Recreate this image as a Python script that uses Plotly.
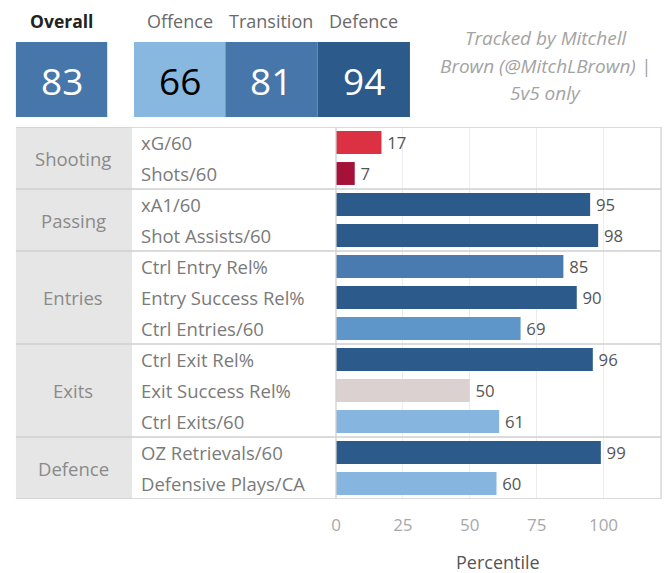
import plotly.graph_objects as go

W, H = 665, 573

# ---- data ----
groups = ["Shooting", "Passing", "Entries", "Exits", "Defence"]
group_sizes = [2, 2, 3, 3, 2]
metrics = ["xG/60", "Shots/60", "xA1/60", "Shot Assists/60", "Ctrl Entry Rel%",
           "Entry Success Rel%", "Ctrl Entries/60", "Ctrl Exit Rel%",
           "Exit Success Rel%", "Ctrl Exits/60", "OZ Retrievals/60",
           "Defensive Plays/CA"]
percentiles = [17, 7, 95, 98, 85, 90, 69, 96, 50, 61, 99, 60]
bar_colors = ["#dc3142", "#a6113a", "#2b5a8b", "#2b5a8b", "#4a7bb0", "#2b5a8b",
              "#5f96c9", "#2b5a8b", "#dcd1d1", "#86b6df", "#2b5a8b", "#86b6df"]
x_ticks = [0, 25, 50, 75, 100]

header_labels = ["Overall", "Offence", "Transition", "Defence"]
header_values = [83, 66, 81, 94]
header_colors = ["#4777aa", "#88b8df", "#4777aa", "#2c5a8a"]
header_text_colors = ["white", "black", "white", "white"]
note_lines = ["Tracked by Mitchell", "Brown (@MitchLBrown) |", "5v5 only"]

FONT = "Open Sans"

def px(x):
    return x / W

def py(y):
    return 1 - y / H

x0_plot, x1_plot = 333.5, 661
y0_plot, y1_plot = 127, 499

fig = go.Figure()
fig.add_trace(go.Bar(
    x=percentiles, y=metrics, orientation="h",
    marker=dict(color=bar_colors, line=dict(width=0)),
    width=0.74,
    text=["\u2009" + str(v) for v in percentiles], textposition="outside",
    textfont=dict(family=FONT, size=17.5, color="#555555"),
    cliponaxis=False, hoverinfo="skip",
))

shapes = []
# group column fill
shapes.append(dict(type="rect", xref="paper", yref="paper",
                   x0=px(11), x1=px(128), y0=py(y1_plot), y1=py(y0_plot),
                   fillcolor="#e6e6e6", line=dict(width=0), layer="below"))
# horizontal separators at group boundaries
bounds = [-0.5]
acc = -0.5
for s in group_sizes:
    acc += s
    bounds.append(acc)
for b in bounds:
    shapes.append(dict(type="line", xref="paper", yref="y",
                       x0=px(11), x1=px(x1_plot), y0=b, y1=b,
                       line=dict(color="#cfcfcf", width=1.3), layer="above"))
# vertical lines
for xv in [x0_plot, x1_plot]:
    shapes.append(dict(type="line", xref="paper", yref="paper",
                       x0=px(xv), x1=px(xv), y0=py(y1_plot), y1=py(y0_plot),
                       line=dict(color="#d0d0d0", width=1.3), layer="above"))

annotations = []
# group labels
start = 0
for g, s in zip(groups, group_sizes):
    mid = start + (s - 1) / 2
    annotations.append(dict(x=px(69), xref="paper", y=mid, yref="y",
                            text=g, showarrow=False, xanchor="center",
                            yanchor="middle",
                            font=dict(family=FONT, size=18.5, color="#8a8a8a")))
    start += s
# metric labels
for m in metrics:
    annotations.append(dict(x=px(135), xref="paper", y=m, yref="y",
                            text=m, showarrow=False, xanchor="left",
                            yanchor="middle",
                            font=dict(family=FONT, size=18.5, color="#7a7a7a")))

# header tiles
tile_x = [(11, 103), (130, 222), (222, 315), (315, 408)]
for (a, b), lab, val, col, tc in zip(tile_x, header_labels, header_values,
                                      header_colors, header_text_colors):
    shapes.append(dict(type="rect", xref="paper", yref="paper",
                       x0=px(a), x1=px(b), y0=py(117), y1=py(42),
                       fillcolor=col, line=dict(width=0)))
    annotations.append(dict(x=px((a + b) / 2), xref="paper", y=py(80), yref="paper",
                            text=str(val), showarrow=False,
                            xanchor="center", yanchor="middle",
                            font=dict(family=FONT, size=37, color=tc)))
    is_overall = lab == "Overall"
    annotations.append(dict(x=px((a + b) / 2), xref="paper", y=py(21), yref="paper",
                            text=("<b>%s</b>" % lab) if is_overall else lab,
                            showarrow=False, xanchor="center", yanchor="middle",
                            font=dict(family=FONT, size=18 if not is_overall else 17.5,
                                      color="#222222" if is_overall else "#6a6a6a")))
for line, yy in zip(note_lines, [38, 66, 93]):
    annotations.append(dict(x=px(545), xref="paper", y=py(yy), yref="paper",
                            text="<i>" + line + "</i>", showarrow=False,
                            xanchor="center", yanchor="middle",
                            font=dict(family=FONT, size=19, color="#a3a3a3")))
annotations.append(dict(x=px(497), xref="paper", y=py(562), yref="paper",
                        text="Percentile", showarrow=False,
                        xanchor="center", yanchor="middle",
                        font=dict(family=FONT, size=18, color="#555555")))

fig.update_layout(
    width=W, height=H, margin=dict(l=0, r=0, t=0, b=0),
    paper_bgcolor="white", plot_bgcolor="white",
    showlegend=False, bargap=0.2,
    shapes=shapes, annotations=annotations,
    xaxis=dict(domain=[px(x0_plot), px(x1_plot)], range=[0, 121.5],
               tickvals=x_ticks, ticktext=[str(t) for t in x_ticks],
               showgrid=True, gridcolor="#ececec", gridwidth=1,
               zeroline=False, showline=False, ticks="",
               ticklabelstandoff=14,
               tickfont=dict(family=FONT, size=17, color="#a8a8a8"),
               fixedrange=True),
    yaxis=dict(domain=[py(y1_plot), py(y0_plot)], range=[11.5, -0.5],
               type="category", categoryorder="array", categoryarray=metrics,
               showticklabels=False, showgrid=False, zeroline=False,
               ticks="", fixedrange=True),
)

fig.write_html("out.html", config={"displayModeBar": False},
               post_script="document.body.style.margin='0';document.body.style.overflow='hidden';")
